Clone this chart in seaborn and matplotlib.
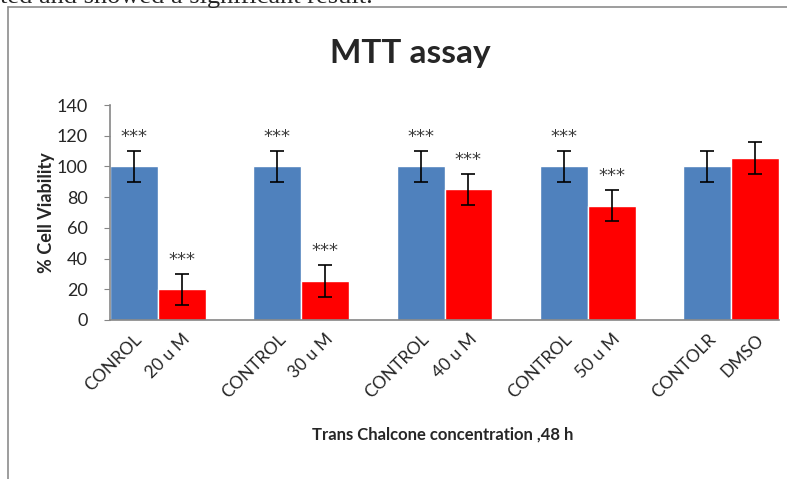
import matplotlib.pyplot as plt
import numpy as np
import pandas as pd
import seaborn as sns
from matplotlib.lines import Line2D

groups = ["20", "30", "40", "50", "DMSO"]
control_vals = [100, 100, 100, 100, 100]
treated_vals = [20, 25.5, 85, 74.5, 105.5]
control_err = [10, 10, 10, 10, 10]
treated_err = [10, 10.4, 10, 10, 10.3]
tick_labels = ["CONROL", "20 u M", "CONTROL", "30 u M", "CONTROL", "40 u M",
               "CONTROL", "50 u M", "CONTOLR", "DMSO"]
control_stars = ["***", "***", "***", "***", ""]
treated_stars = ["***", "***", "***", "***", ""]

sns.set_style("white")
plt.rcParams["font.family"] = ["Lato", "DejaVu Sans"]

df = pd.DataFrame({
    "group": groups * 2,
    "kind": ["control"] * 5 + ["treated"] * 5,
    "value": control_vals + treated_vals,
})

fig = plt.figure(figsize=(7.87, 4.79), dpi=100)
ax = fig.add_axes([110 / 787, 1 - 320 / 479, 669 / 787, 215 / 479])

sns.barplot(data=df, x="group", y="value", hue="kind", order=groups,
            palette={"control": "#4F81BD", "treated": "#FF0000"},
            saturation=1, errorbar=None, width=0.667, gap=0, ax=ax, legend=False)

centers = []
for cont, errs, stars in zip(ax.containers, [control_err, treated_err], [control_stars, treated_stars]):
    for bar, e, s in zip(cont, errs, stars):
        cx = bar.get_x() + bar.get_width() / 2
        h = bar.get_height()
        centers.append(cx)
        ax.errorbar(cx, h, yerr=e, color="black", lw=1.2, capsize=5, capthick=1.2)
        if s:
            ax.annotate(s, (cx, h + e), xytext=(0, 10), textcoords="offset points",
                        ha="center", va="center", fontsize=13, color="#3a3a3a",
                        family="DejaVu Sans")

centers = sorted(centers)
ax.set_xticks(centers)
ax.set_xticklabels(tick_labels, rotation=45, ha="right", va="top",
                   rotation_mode="anchor", fontsize=12.5)
ax.set_xlim(-1 / 3, 4 + 1 / 3)
ax.set_ylim(0, 140)
ax.set_yticks(np.arange(0, 141, 20))
ax.tick_params(axis="y", labelsize=13, length=4, color="#868686", direction="out",
               left=True, pad=12)
ax.tick_params(axis="x", length=0, pad=8)

for side in ["top", "right"]:
    ax.spines[side].set_visible(False)
for side in ["left", "bottom"]:
    ax.spines[side].set_color("#868686")
    ax.spines[side].set_linewidth(1.2)

ax.set_ylabel("% Cell Viability", fontsize=13, fontweight="bold")
ax.yaxis.set_label_coords(-55 / 669, 0.5)
ax.set_xlabel("")
fig.text(443 / 787, 1 - 435 / 479, "Trans Chalcone concentration ,48 h",
         ha="center", va="center", fontsize=12, fontweight="bold")
fig.text(410 / 787, 1 - 54 / 479, "MTT assay", ha="center", va="center",
         fontsize=24, fontweight="bold")

# page text and frame around the figure in the original page
fig.text(0, 1 - 3 / 479, "ted and showed a significant result.", family=["Liberation Serif", "DejaVu Serif"],
         fontsize=19, va="baseline", ha="left")
fig.add_artist(Line2D([8 / 787, 1], [1 - 7 / 479, 1 - 7 / 479], transform=fig.transFigure,
                      color="#8c8c8c", lw=1.2))
fig.add_artist(Line2D([8 / 787, 8 / 787], [0, 1 - 7 / 479], transform=fig.transFigure,
                      color="#8c8c8c", lw=1.2))

fig.savefig("out.png", dpi=100)
